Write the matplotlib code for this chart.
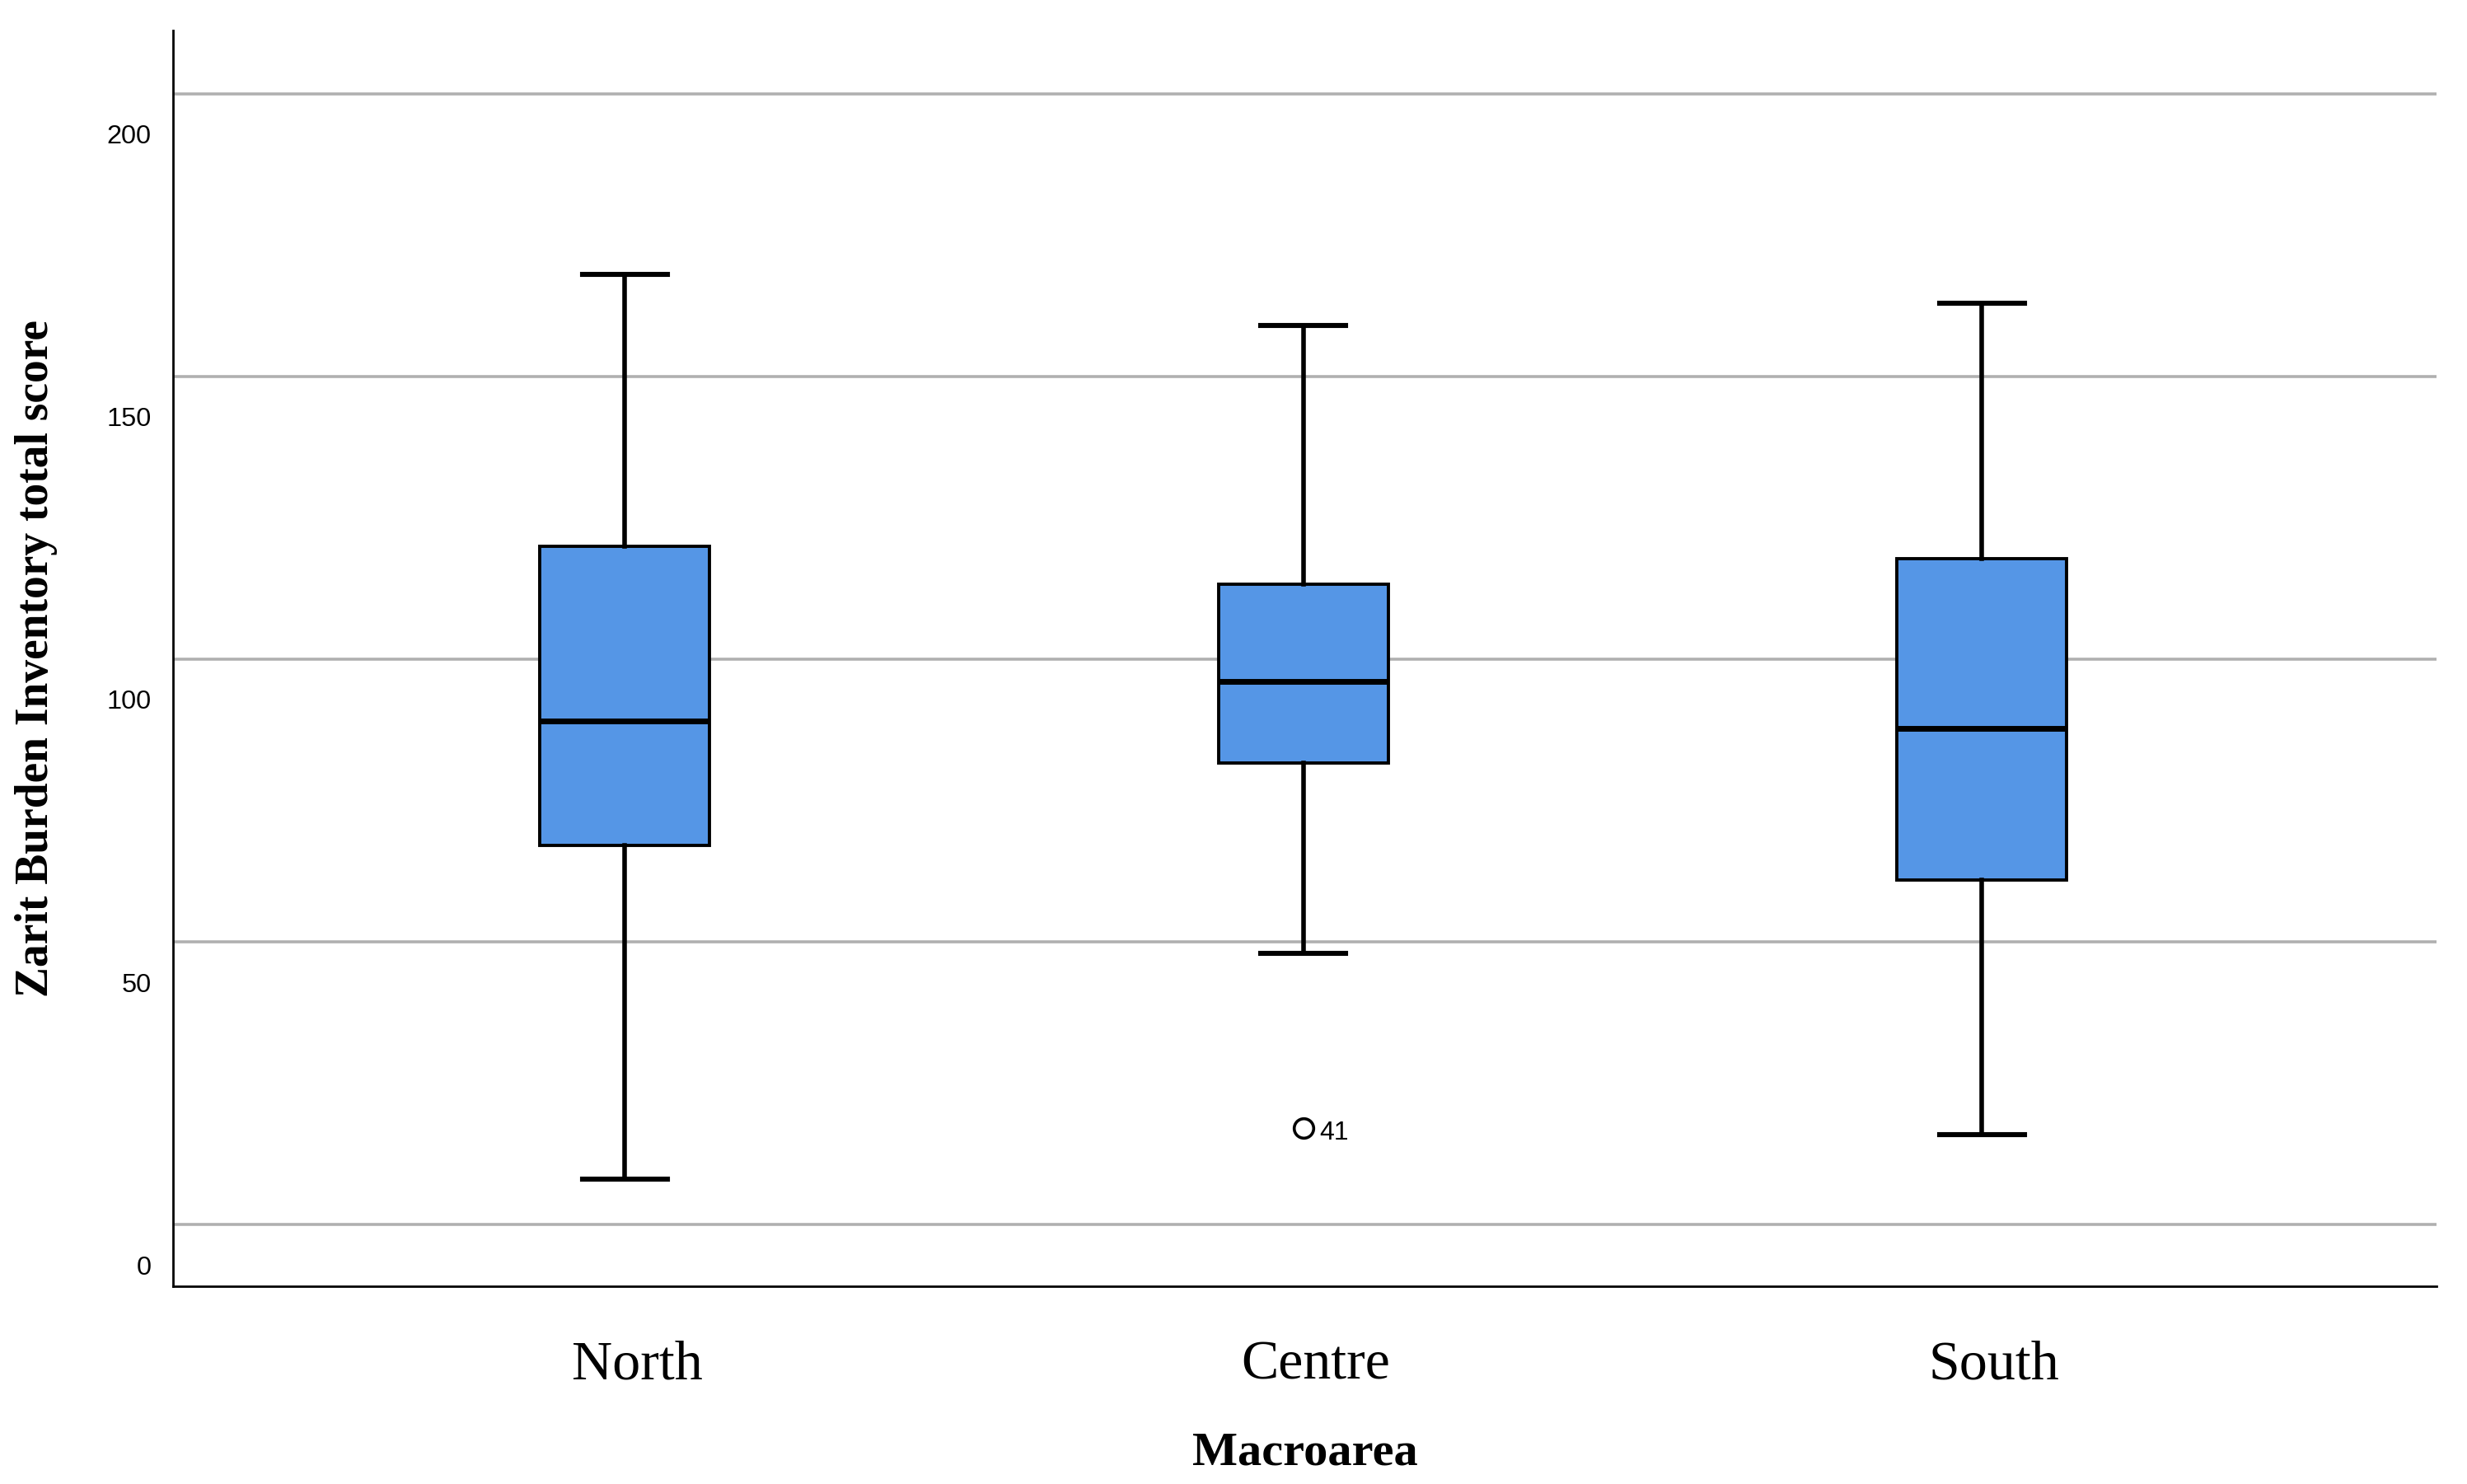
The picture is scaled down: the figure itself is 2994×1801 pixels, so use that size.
import matplotlib
matplotlib.use("Agg")
import matplotlib.pyplot as plt
import matplotlib.transforms as mtransforms

# Summary statistics
categories = ["North", "Centre", "South"]
q1 = [67.0, 81.7, 61.0]
medians = [89.0, 96.0, 87.7]
q3 = [120.0, 113.3, 117.8]
whisk_lo = [8.1, 48.0, 15.9]
whisk_hi = [168.0, 159.0, 163.0]
outliers = [[], [17.0], []]
outlier_ids = [[], ["41"], []]

yticks = [0, 50, 100, 150, 200]

box_color = "#5596e6"
serif = ["Liberation Serif", "DejaVu Serif"]
sans = ["Liberation Sans", "DejaVu Sans"]

fig = plt.figure(figsize=(14.97, 9.005), dpi=200)
ax = fig.add_axes([0.0701, 0.1333, 0.9175, 0.8462])

stats = []
for i, name in enumerate(categories):
    stats.append({"label": name, "q1": q1[i], "med": medians[i], "q3": q3[i],
                  "whislo": whisk_lo[i], "whishi": whisk_hi[i], "fliers": outliers[i]})

ax.bxp(stats, positions=range(len(categories)), widths=0.25, patch_artist=True,
       boxprops=dict(facecolor=box_color, edgecolor="black", linewidth=1.4),
       medianprops=dict(color="black", linewidth=2.5),
       whiskerprops=dict(color="black", linewidth=2.0),
       capprops=dict(color="black", linewidth=2.2),
       flierprops=dict(marker="o", markerfacecolor="white", markeredgecolor="black",
                       markersize=8.5, markeredgewidth=1.3))

# case-number labels next to outliers
for i, (vals, ids) in enumerate(zip(outliers, outlier_ids)):
    for v, lab in zip(vals, ids):
        ax.annotate(lab, (i, v), xytext=(7, -2), textcoords="offset points",
                    ha="left", va="center", fontsize=11.5, family=sans)

ax.set_xlim(-0.666, 2.67)
ax.set_ylim(-10.9, 211.2)

ax.set_yticks(yticks)
ax.set_yticklabels([str(t) for t in yticks], fontsize=11.7, family=sans)
ax.tick_params(axis="y", length=0, pad=9.5)
ax.tick_params(axis="x", length=0, pad=23.5)
ax.set_xticks(range(len(categories)))
ax.set_xticklabels(categories, fontsize=24.5, family=serif)

# SPSS-style: value labels sit a little below their grid lines
shift = mtransforms.ScaledTranslation(0, -49 / 200, fig.dpi_scale_trans)
for lbl in ax.get_yticklabels():
    lbl.set_transform(lbl.get_transform() + shift)
# category labels sit slightly right of the boxes
xshift = mtransforms.ScaledTranslation(15 / 200, 0, fig.dpi_scale_trans)
for lbl in ax.get_xticklabels():
    lbl.set_transform(lbl.get_transform() + xshift)

ax.yaxis.grid(True, color="#b0b0b0", linewidth=1.3)
ax.set_axisbelow(True)

for side in ["top", "right"]:
    ax.spines[side].set_visible(False)
for side in ["left", "bottom"]:
    ax.spines[side].set_linewidth(1.0)
    ax.spines[side].set_color("black")

ax.set_xlabel("Macroarea", fontsize=21, fontweight="bold", family=serif, labelpad=18)
ax.set_ylabel("Zarit Burden Inventory total score", fontsize=20, fontweight="bold",
              family=serif, labelpad=14)
ax.yaxis.set_label_coords(-0.051, 0.5)

fig.savefig("out.png", dpi=200)
